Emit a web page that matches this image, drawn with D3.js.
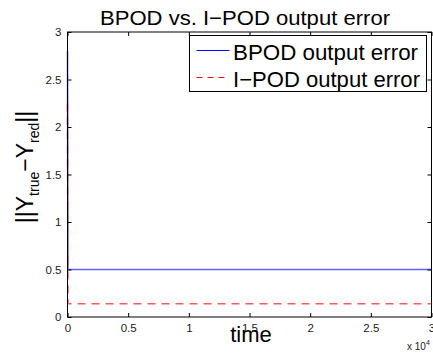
<!DOCTYPE html>
<html><head><meta charset="utf-8">
<script src="https://cdn.jsdelivr.net/npm/d3@7"></script>
<style>body{margin:0;background:#fff}svg{display:block}text{font-family:"Liberation Sans",Arial,sans-serif}</style>
</head><body>
<svg id="c" width="433" height="356"></svg>
<script>
const timeVals = [0, 40, 30000];
const bpodErr = [2.8, 0.5, 0.5];
const ipodErr = [2.25, 0.14, 0.14];
const xTicks = [0, 5000, 10000, 15000, 20000, 25000, 30000];
const xTickLabels = ["0", "0.5", "1", "1.5", "2", "2.5", "3"];
const yTicks = [0, 0.5, 1, 1.5, 2, 2.5, 3];
const yTickLabels = ["0", "0.5", "1", "1.5", "2", "2.5", "3"];
const seriesNames = ["BPOD output error", "I\u2212POD output error"];

const svg = d3.select("#c");
const L = 67.5, R = 431.5, T = 32, B = 317;
const x = d3.scaleLinear().domain([0, 30000]).range([L, R]);
const y = d3.scaleLinear().domain([0, 3]).range([B, T]);

const g = svg.append("g");
const line = d3.line().x((d,i)=>x(timeVals[i])).y(d=>y(d));
g.append("path").datum(bpodErr).attr("d", line).attr("fill","none").attr("stroke","#6262ff").attr("stroke-width",1.6);
g.append("path").datum(ipodErr).attr("d", line).attr("fill","none").attr("stroke","#ff5a5a").attr("stroke-width",1.6).attr("stroke-dasharray","8,6");

const ax = d3.axisBottom(x).tickValues(xTicks).tickFormat((d,i)=>xTickLabels[i]).tickSize(-4).tickPadding(7);
const axT = d3.axisTop(x).tickValues(xTicks).tickFormat("").tickSize(-4);
const ay = d3.axisLeft(y).tickValues(yTicks).tickFormat((d,i)=>yTickLabels[i]).tickSize(-4).tickPadding(6);
const ayR = d3.axisRight(y).tickValues(yTicks).tickFormat("").tickSize(-4);
function style(sel){
  sel.select(".domain").remove();
  sel.selectAll("line").attr("stroke","#000");
  sel.selectAll("text").attr("font-size",11.5).attr("fill","#222").attr("font-family","Liberation Sans, Arial, sans-serif");
}
svg.append("g").attr("transform",`translate(0,${B})`).call(ax).call(style);
svg.append("g").attr("transform",`translate(0,${T})`).call(axT).call(style);
svg.append("g").attr("transform",`translate(${L},0)`).call(ay).call(style);
svg.append("g").attr("transform",`translate(${R},0)`).call(ayR).call(style);
svg.append("rect").attr("x",L).attr("y",T).attr("width",R-L).attr("height",B-T).attr("fill","none").attr("stroke","#000").attr("stroke-width",1);

const ex = svg.append("text").attr("x",407).attr("y",350).attr("font-size",10).attr("fill","#222");
ex.append("tspan").text("x 10");
ex.append("tspan").attr("dy",-5).attr("font-size",7).text("4");

svg.append("text").attr("x",100).attr("y",25).attr("font-size",21).attr("textLength",290).attr("lengthAdjust","spacingAndGlyphs").text("BPOD vs. I\u2212POD output error");
svg.append("text").attr("x",251).attr("y",342).attr("text-anchor","middle").attr("font-size",22).text("time");
const yl = svg.append("text").attr("transform","translate(33,167) rotate(-90)").attr("text-anchor","middle").attr("font-size",23);
yl.append("tspan").text("||Y");
yl.append("tspan").attr("dy",6).attr("font-size",14).text("true");
yl.append("tspan").attr("dy",-6).text("\u2212Y");
yl.append("tspan").attr("dy",6).attr("font-size",14).text("red");
yl.append("tspan").attr("dy",-6).text("||");

const lg = svg.append("g");
lg.append("rect").attr("x",189.5).attr("y",35.5).attr("width",237).attr("height",56).attr("fill","#fff").attr("stroke","#000");
const colors = ["#0000ff","#ff0000"], dashes = [null,"6,5"], lens = [185, 187];
seriesNames.forEach((n,i)=>{
  const yy = 50.5 + i*27;
  lg.append("line").attr("x1",196.5).attr("x2",229.5).attr("y1",yy).attr("y2",yy).attr("stroke",colors[i]).attr("stroke-dasharray",dashes[i]);
  lg.append("text").attr("x",233).attr("y",yy+9).attr("font-size",22).attr("textLength",lens[i]).attr("lengthAdjust","spacingAndGlyphs").text(n);
});
</script>
</body></html>
